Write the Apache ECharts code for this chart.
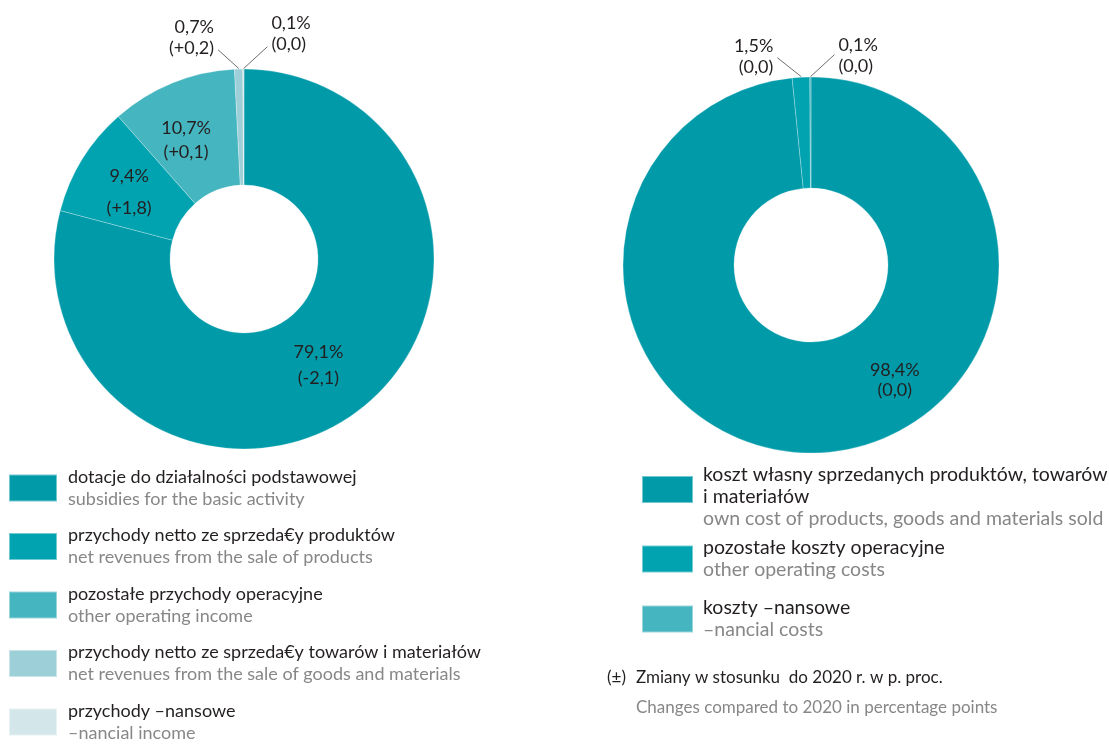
<!DOCTYPE html>
<html>
<head>
<meta charset="utf-8">
<title>Struktura przychodów i kosztów</title>
<script src="https://cdn.jsdelivr.net/npm/echarts@6/dist/echarts.min.js"></script>
<style>
  html, body { margin: 0; padding: 0; background: #ffffff; }
  #chart { width: 1109px; height: 745px; }
</style>
</head>
<body>
<div id="chart"></div>
<script>
// Revenues (left ring)
const revenueNames = [
  'dotacje do działalności podstawowej',
  'przychody netto ze sprzeda€y produktów',
  'pozostałe przychody operacyjne',
  'przychody netto ze sprzeda€y towarów i materiałów',
  'przychody –nansowe'
];
const revenueNamesEn = [
  'subsidies for the basic activity',
  'net revenues from the sale of products',
  'other operating income',
  'net revenues from the sale of goods and materials',
  '–nancial income'
];
const revenueShares = [79.1, 9.4, 10.7, 0.7, 0.1];
const revenueChanges = [-2.1, 1.8, 0.1, 0.2, 0.0];

// Costs (right ring)
const costNames = [
  'koszt własny sprzedanych produktów, towarów i materiałów',
  'pozostałe koszty operacyjne',
  'koszty –nansowe'
];
const costLegendLines = [
  'koszt własny sprzedanych produktów, towarów\ni materiałów',
  'pozostałe koszty operacyjne',
  'koszty –nansowe'
];
const costNamesEn = [
  'own cost of products, goods and materials sold',
  'other operating costs',
  '–nancial costs'
];
const costShares = [98.4, 1.5, 0.1];
const costChanges = [0.0, 0.0, 0.0];

const noteSymbol = '(±)';
const notePl = 'Zmiany w stosunku  do 2020 r. w p. proc.';
const noteEn = 'Changes compared to 2020 in percentage points';

const revenueColors = ['#009aa9', '#00a3af', '#45b5bf', '#9dcfd8', '#d3e7eb'];
const costColors = ['#009aa9', '#00a3af', '#45b5bf'];

const FONT = 'Lato, "Open Sans", sans-serif';
const DARK = '#231f20';
const GREY = '#878787';

const fmtShare = v => v.toFixed(1).replace('.', ',') + '%';
const fmtChange = v => '(' + (v > 0 ? '+' : '') + (Math.abs(v) < 1e-9 ? '0.0' : v.toFixed(1)).replace('.', ',') + ')';

// Slices below this share carry their labels outside, on a short slanted leader.
const SMALL = 5;

function buildData(names, shares, changes, colors, lineHeights) {
  return names.map((name, i) => {
    const small = shares[i] < SMALL;
    return {
      name: name,
      value: shares[i],
      change: changes[i],
      itemStyle: { color: colors[i] },
      label: small
        ? { position: 'outside', lineHeight: 21 }
        : { position: 'inside', lineHeight: lineHeights[i] || 23 },
      labelLine: { show: small }
    };
  });
}

function labelFormatter(p) {
  return fmtShare(p.value) + '\n' + fmtChange(p.data.change);
}

// Nudges for the labels sitting inside the ring: [dx, dy]
const insideNudge = {
  '0-0': [-8, -1],
  '0-1': [0, 4],
  '0-2': [-7, 6],
  '1-0': [77, -20]
};
// Leader geometry for outside labels: [line dx, line dy, text offset below line end]
const outsideLeader = {
  '0-3': [-21, -19, 9],
  '0-4': [24, -22, 8],
  '1-1': [-24, -19, 20],
  '1-2': [24, -22, 22]
};

function makeLabelLayout(seriesIdx, count, shares) {
  return function (params) {
    const i = params.dataIndex;
    const key = seriesIdx + '-' + i;
    if (shares[i] >= SMALL) {
      const n = insideNudge[key] || [0, 0];
      return { dx: n[0], dy: n[1] };
    }
    const r = params.rect;
    const ax = r.x + r.width / 2;
    const ay = r.y;
    const side = i === count - 1 ? 1 : -1;
    const g = outsideLeader[key] || [side * 21, -19, 10];
    const ex = ax + g[0];
    const ey = ay + g[1];
    return {
      x: ex + side * 4,
      y: ey + g[2],
      align: side < 0 ? 'right' : 'left',
      verticalAlign: 'bottom',
      labelLinePoints: [[ax, ay], [ex, ey], [ex, ey]]
    };
  };
}

function pieSeries(idx, names, shares, changes, colors, center, radius, lineHeights) {
  return {
    type: 'pie',
    center: center,
    radius: radius,
    startAngle: 90,
    clockwise: true,
    avoidLabelOverlap: false,
    minAngle: 0,
    animation: false,
    silent: true,
    itemStyle: { borderColor: 'rgba(255,255,255,0.45)', borderWidth: 0.6 },
    label: {
      show: true,
      formatter: labelFormatter,
      fontFamily: FONT,
      fontSize: 18,
      color: DARK
    },
    labelLine: {
      show: true,
      length: 10,
      length2: 10,
      lineStyle: { color: '#6f6f6f', width: 1 }
    },
    labelLayout: makeLabelLayout(idx, names.length, shares),
    data: buildData(names, shares, changes, colors, lineHeights)
  };
}

const leftRich = {
  pl: { fontFamily: FONT, fontSize: 18, color: DARK, lineHeight: 22 },
  en: { fontFamily: FONT, fontSize: 18, color: GREY, lineHeight: 22 }
};
const rightRich = {
  pl: { fontFamily: FONT, fontSize: 19.5, color: DARK, lineHeight: 22 },
  en: { fontFamily: FONT, fontSize: 19.5, color: GREY, lineHeight: 22 }
};

function costLegend(indices, top, firstPad) {
  return {
    orient: 'vertical',
    left: 636,
    top: top,
    height: 200,
    itemWidth: 51,
    itemHeight: 27,
    itemGap: 18,
    icon: 'rect',
    selectedMode: false,
    data: indices.map(i => ({
      name: costNames[i],
      itemStyle: { color: costColors[i] },
      textStyle: { padding: [firstPad, 0, 0, 5], rich: rightRich }
    })),
    formatter: name => {
      const i = costNames.indexOf(name);
      return '{pl|' + costLegendLines[i] + '}\n{en|' + costNamesEn[i] + '}';
    },
    textStyle: { padding: [0, 0, 0, 5], rich: rightRich }
  };
}

const option = {
  backgroundColor: '#ffffff',
  animation: false,
  title: [
    {
      text: noteSymbol,
      left: 602,
      top: 663,
      textStyle: { fontFamily: FONT, fontSize: 17, fontWeight: 'normal', color: DARK, lineHeight: 20 }
    },
    {
      text: notePl,
      subtext: noteEn,
      left: 631,
      top: 663,
      itemGap: 10,
      textStyle: { fontFamily: FONT, fontSize: 17, fontWeight: 'normal', color: DARK, lineHeight: 20 },
      subtextStyle: { fontFamily: FONT, fontSize: 17, color: GREY, lineHeight: 20 }
    }
  ],
  legend: [
    {
      orient: 'vertical',
      left: 3,
      top: 463,
      height: 320,
      itemWidth: 48,
      itemHeight: 27,
      itemGap: 18.5,
      icon: 'rect',
      selectedMode: false,
      data: revenueNames.map((n, i) => ({ name: n, itemStyle: { color: revenueColors[i] } })),
      formatter: name => {
        const i = revenueNames.indexOf(name);
        return '{pl|' + name + '}\n{en|' + revenueNamesEn[i] + '}';
      },
      textStyle: { padding: [0, 0, 0, 6], rich: leftRich }
    },
    costLegend([0], 460, 15),
    costLegend([1, 2], 533, 0)
  ],
  series: [
    pieSeries(0, revenueNames, revenueShares, revenueChanges, revenueColors,
      [244, 259], [74, 190], { 0: 26, 1: 32, 2: 24 }),
    pieSeries(1, costNames, costShares, costChanges, costColors,
      [811, 265], [77, 188], { 0: 20 })
  ]
};

const chart = echarts.init(document.getElementById('chart'), null, { renderer: 'canvas' });
chart.setOption(option);
</script>
</body>
</html>
